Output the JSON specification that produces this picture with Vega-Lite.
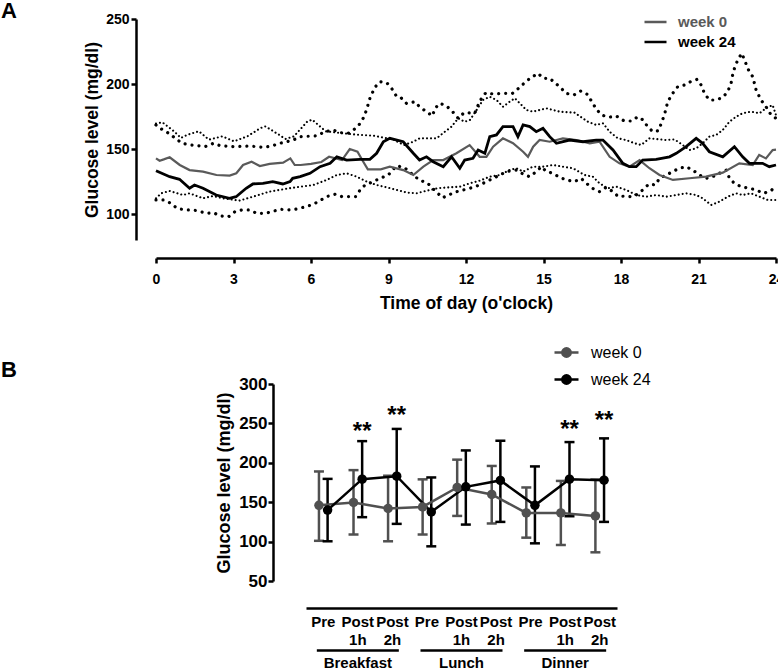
{
  "$schema": "https://vega.github.io/schema/vega-lite/v6.json",
  "padding": {"left": 1, "top": 0, "right": 0, "bottom": 0},
  "background": "#ffffff",
  "config": {"font": "Liberation Sans", "view": {"stroke": null}, "axis": {"grid": false, "domainColor": "#000", "tickColor": "#000", "labelColor": "#000", "titleColor": "#000"}, "axisY": {"labelOverlap": false}},
  "bounds": "flush",
  "spacing": 144,
  "resolve": {"scale": {"color": "independent"}, "legend": {"color": "independent"}},
  "datasets": {
    "meanA": [
      {"h":0,"v":142.8,"week":"week 0"},{"h":0.14,"v":141,"week":"week 0"},{"h":0.3,"v":142,"week":"week 0"},{"h":0.53,"v":143.6,"week":"week 0"},{"h":0.92,"v":137.7,"week":"week 0"},{"h":1.3,"v":133.8,"week":"week 0"},{"h":1.82,"v":132.6,"week":"week 0"},{"h":2.34,"v":130,"week":"week 0"},{"h":2.85,"v":129.5,"week":"week 0"},{"h":3.11,"v":131.3,"week":"week 0"},{"h":3.37,"v":137.7,"week":"week 0"},{"h":3.7,"v":140.2,"week":"week 0"},{"h":4.02,"v":136.9,"week":"week 0"},{"h":4.4,"v":138.5,"week":"week 0"},{"h":4.92,"v":139.5,"week":"week 0"},{"h":5.2,"v":142.8,"week":"week 0"},{"h":5.37,"v":137.7,"week":"week 0"},{"h":5.6,"v":137.7,"week":"week 0"},{"h":6.0,"v":138.5,"week":"week 0"},{"h":6.4,"v":140,"week":"week 0"},{"h":6.7,"v":144,"week":"week 0"},{"h":7.2,"v":141.5,"week":"week 0"},{"h":7.5,"v":150,"week":"week 0"},{"h":7.8,"v":148,"week":"week 0"},{"h":8.0,"v":141,"week":"week 0"},{"h":8.2,"v":134.4,"week":"week 0"},{"h":8.7,"v":134.4,"week":"week 0"},{"h":9.05,"v":136.4,"week":"week 0"},{"h":9.57,"v":133.8,"week":"week 0"},{"h":9.96,"v":130,"week":"week 0"},{"h":10.35,"v":136.4,"week":"week 0"},{"h":10.73,"v":141.5,"week":"week 0"},{"h":11.12,"v":141.5,"week":"week 0"},{"h":11.63,"v":146.7,"week":"week 0"},{"h":12.14,"v":153,"week":"week 0"},{"h":12.53,"v":144,"week":"week 0"},{"h":12.79,"v":144,"week":"week 0"},{"h":13.05,"v":151.8,"week":"week 0"},{"h":13.43,"v":158.2,"week":"week 0"},{"h":13.82,"v":154.4,"week":"week 0"},{"h":14.21,"v":147.9,"week":"week 0"},{"h":14.4,"v":144,"week":"week 0"},{"h":14.6,"v":151.8,"week":"week 0"},{"h":14.85,"v":156.9,"week":"week 0"},{"h":15.24,"v":155.6,"week":"week 0"},{"h":15.75,"v":158.2,"week":"week 0"},{"h":16.27,"v":156.9,"week":"week 0"},{"h":16.79,"v":154.4,"week":"week 0"},{"h":17.17,"v":155.6,"week":"week 0"},{"h":17.56,"v":144,"week":"week 0"},{"h":17.94,"v":139,"week":"week 0"},{"h":18.33,"v":136.4,"week":"week 0"},{"h":18.72,"v":141.5,"week":"week 0"},{"h":19.1,"v":135.2,"week":"week 0"},{"h":19.49,"v":130,"week":"week 0"},{"h":20.01,"v":126.2,"week":"week 0"},{"h":20.65,"v":127.5,"week":"week 0"},{"h":21.29,"v":128.7,"week":"week 0"},{"h":21.94,"v":131.8,"week":"week 0"},{"h":22.58,"v":139,"week":"week 0"},{"h":23.1,"v":137.7,"week":"week 0"},{"h":23.35,"v":145.4,"week":"week 0"},{"h":23.61,"v":142.8,"week":"week 0"},{"h":23.87,"v":149.2,"week":"week 0"},{"h":24,"v":149.5,"week":"week 0"},
      {"h":0,"v":133.3,"week":"week 24"},{"h":0.53,"v":128.7,"week":"week 24"},{"h":0.91,"v":126.7,"week":"week 24"},{"h":1.3,"v":119.8,"week":"week 24"},{"h":1.49,"v":122.3,"week":"week 24"},{"h":1.82,"v":119.8,"week":"week 24"},{"h":2.33,"v":114.6,"week":"week 24"},{"h":2.84,"v":112.1,"week":"week 24"},{"h":3.1,"v":113.3,"week":"week 24"},{"h":3.49,"v":119.8,"week":"week 24"},{"h":3.75,"v":123.1,"week":"week 24"},{"h":4.14,"v":123.6,"week":"week 24"},{"h":4.52,"v":124.9,"week":"week 24"},{"h":4.91,"v":123.1,"week":"week 24"},{"h":5.19,"v":124.9,"week":"week 24"},{"h":5.29,"v":127.4,"week":"week 24"},{"h":5.58,"v":128.7,"week":"week 24"},{"h":5.96,"v":131.3,"week":"week 24"},{"h":6.35,"v":136.4,"week":"week 24"},{"h":6.74,"v":139,"week":"week 24"},{"h":7.0,"v":144,"week":"week 24"},{"h":7.38,"v":141.5,"week":"week 24"},{"h":7.9,"v":142,"week":"week 24"},{"h":8.28,"v":142,"week":"week 24"},{"h":8.54,"v":146.7,"week":"week 24"},{"h":8.8,"v":155.6,"week":"week 24"},{"h":9.05,"v":158.2,"week":"week 24"},{"h":9.57,"v":155.6,"week":"week 24"},{"h":9.96,"v":146.7,"week":"week 24"},{"h":10.2,"v":141.5,"week":"week 24"},{"h":10.47,"v":144,"week":"week 24"},{"h":10.73,"v":140.2,"week":"week 24"},{"h":11.12,"v":136.4,"week":"week 24"},{"h":11.44,"v":144,"week":"week 24"},{"h":11.76,"v":135.2,"week":"week 24"},{"h":11.95,"v":141.5,"week":"week 24"},{"h":12.27,"v":142.8,"week":"week 24"},{"h":12.47,"v":149.2,"week":"week 24"},{"h":12.73,"v":146.7,"week":"week 24"},{"h":12.92,"v":159.5,"week":"week 24"},{"h":13.18,"v":160.8,"week":"week 24"},{"h":13.43,"v":167.2,"week":"week 24"},{"h":13.82,"v":167.2,"week":"week 24"},{"h":14.01,"v":159.5,"week":"week 24"},{"h":14.21,"v":168.5,"week":"week 24"},{"h":14.47,"v":167.2,"week":"week 24"},{"h":14.72,"v":163.3,"week":"week 24"},{"h":14.98,"v":165.9,"week":"week 24"},{"h":15.24,"v":159.5,"week":"week 24"},{"h":15.5,"v":154.4,"week":"week 24"},{"h":16.01,"v":156.9,"week":"week 24"},{"h":16.53,"v":155.6,"week":"week 24"},{"h":17.04,"v":156.9,"week":"week 24"},{"h":17.3,"v":156.9,"week":"week 24"},{"h":17.69,"v":149.2,"week":"week 24"},{"h":18.07,"v":139,"week":"week 24"},{"h":18.33,"v":136.4,"week":"week 24"},{"h":18.59,"v":136.4,"week":"week 24"},{"h":18.84,"v":141.5,"week":"week 24"},{"h":19.36,"v":142,"week":"week 24"},{"h":19.88,"v":144,"week":"week 24"},{"h":20.14,"v":146.7,"week":"week 24"},{"h":20.52,"v":151.8,"week":"week 24"},{"h":20.91,"v":158.2,"week":"week 24"},{"h":21.16,"v":154.4,"week":"week 24"},{"h":21.42,"v":147.9,"week":"week 24"},{"h":21.94,"v":144,"week":"week 24"},{"h":22.39,"v":151.8,"week":"week 24"},{"h":22.71,"v":144,"week":"week 24"},{"h":22.97,"v":139,"week":"week 24"},{"h":23.48,"v":139,"week":"week 24"},{"h":23.74,"v":136.4,"week":"week 24"},{"h":24,"v":137.7,"week":"week 24"}
    ],
    "sd0": [
      {"h":0,"v":169.6,"bound":"upper"},{"h":0.25,"v":170.5,"bound":"upper"},{"h":0.45,"v":167.4,"bound":"upper"},{"h":0.7,"v":163.6,"bound":"upper"},{"h":0.96,"v":158.5,"bound":"upper"},{"h":1.22,"v":161,"bound":"upper"},{"h":1.66,"v":163.6,"bound":"upper"},{"h":2.05,"v":157.2,"bound":"upper"},{"h":2.31,"v":158.5,"bound":"upper"},{"h":2.57,"v":159.7,"bound":"upper"},{"h":3.02,"v":155.9,"bound":"upper"},{"h":3.53,"v":159.7,"bound":"upper"},{"h":4.05,"v":166.1,"bound":"upper"},{"h":4.24,"v":167.4,"bound":"upper"},{"h":4.76,"v":161,"bound":"upper"},{"h":5.01,"v":157.7,"bound":"upper"},{"h":5.34,"v":159.7,"bound":"upper"},{"h":5.86,"v":171.2,"bound":"upper"},{"h":6.05,"v":172.5,"bound":"upper"},{"h":6.57,"v":163.6,"bound":"upper"},{"h":7.15,"v":162.3,"bound":"upper"},{"h":7.79,"v":161,"bound":"upper"},{"h":8.43,"v":160.2,"bound":"upper"},{"h":9.2,"v":157.2,"bound":"upper"},{"h":9.6,"v":153,"bound":"upper"},{"h":9.96,"v":155.6,"bound":"upper"},{"h":10.2,"v":158.2,"bound":"upper"},{"h":10.86,"v":158.2,"bound":"upper"},{"h":11.18,"v":163.3,"bound":"upper"},{"h":11.44,"v":167.2,"bound":"upper"},{"h":11.7,"v":173.6,"bound":"upper"},{"h":11.95,"v":171,"bound":"upper"},{"h":12.15,"v":172.3,"bound":"upper"},{"h":12.41,"v":180,"bound":"upper"},{"h":12.66,"v":187.7,"bound":"upper"},{"h":12.92,"v":190.2,"bound":"upper"},{"h":13.18,"v":187.7,"bound":"upper"},{"h":13.43,"v":182.5,"bound":"upper"},{"h":13.69,"v":186.4,"bound":"upper"},{"h":13.89,"v":189,"bound":"upper"},{"h":14.08,"v":185.2,"bound":"upper"},{"h":14.34,"v":180,"bound":"upper"},{"h":14.59,"v":178.7,"bound":"upper"},{"h":15.11,"v":181.3,"bound":"upper"},{"h":15.63,"v":178.7,"bound":"upper"},{"h":16.2,"v":178,"bound":"upper"},{"h":16.72,"v":171,"bound":"upper"},{"h":17.04,"v":168.5,"bound":"upper"},{"h":17.3,"v":169.8,"bound":"upper"},{"h":17.56,"v":163.3,"bound":"upper"},{"h":17.88,"v":158.2,"bound":"upper"},{"h":18.2,"v":156.9,"bound":"upper"},{"h":18.52,"v":154.4,"bound":"upper"},{"h":18.78,"v":153.1,"bound":"upper"},{"h":19.1,"v":158.2,"bound":"upper"},{"h":19.75,"v":156.9,"bound":"upper"},{"h":20.07,"v":157.4,"bound":"upper"},{"h":20.39,"v":153.1,"bound":"upper"},{"h":20.65,"v":149.2,"bound":"upper"},{"h":20.91,"v":150.5,"bound":"upper"},{"h":21.16,"v":154.4,"bound":"upper"},{"h":21.42,"v":159.5,"bound":"upper"},{"h":21.68,"v":160.8,"bound":"upper"},{"h":21.94,"v":164.6,"bound":"upper"},{"h":22.2,"v":171,"bound":"upper"},{"h":22.45,"v":174.8,"bound":"upper"},{"h":22.71,"v":177.5,"bound":"upper"},{"h":23.03,"v":178.7,"bound":"upper"},{"h":23.36,"v":177.5,"bound":"upper"},{"h":23.61,"v":181.3,"bound":"upper"},{"h":23.87,"v":183.8,"bound":"upper"},{"h":24,"v":176,"bound":"upper"},
      {"h":0,"v":112.1,"bound":"lower"},{"h":0.2,"v":115.9,"bound":"lower"},{"h":0.53,"v":117.7,"bound":"lower"},{"h":1.04,"v":114.6,"bound":"lower"},{"h":1.3,"v":115.9,"bound":"lower"},{"h":1.82,"v":112.1,"bound":"lower"},{"h":2.2,"v":113.8,"bound":"lower"},{"h":2.59,"v":112.1,"bound":"lower"},{"h":3.23,"v":110.3,"bound":"lower"},{"h":3.75,"v":113.3,"bound":"lower"},{"h":4.39,"v":117.2,"bound":"lower"},{"h":4.78,"v":118.5,"bound":"lower"},{"h":5.16,"v":119.8,"bound":"lower"},{"h":5.58,"v":121,"bound":"lower"},{"h":6.09,"v":122.3,"bound":"lower"},{"h":6.61,"v":126.2,"bound":"lower"},{"h":7.0,"v":130,"bound":"lower"},{"h":7.38,"v":131.3,"bound":"lower"},{"h":7.77,"v":128.7,"bound":"lower"},{"h":8.15,"v":125,"bound":"lower"},{"h":8.54,"v":122.3,"bound":"lower"},{"h":8.93,"v":120.5,"bound":"lower"},{"h":9.31,"v":118.5,"bound":"lower"},{"h":9.7,"v":116.5,"bound":"lower"},{"h":10.1,"v":116,"bound":"lower"},{"h":10.5,"v":118,"bound":"lower"},{"h":10.9,"v":119.8,"bound":"lower"},{"h":11.3,"v":120.5,"bound":"lower"},{"h":11.76,"v":121,"bound":"lower"},{"h":12.15,"v":123.6,"bound":"lower"},{"h":12.53,"v":125.6,"bound":"lower"},{"h":12.92,"v":128.7,"bound":"lower"},{"h":13.31,"v":130,"bound":"lower"},{"h":13.69,"v":133.8,"bound":"lower"},{"h":13.95,"v":135.2,"bound":"lower"},{"h":14.21,"v":132.6,"bound":"lower"},{"h":14.59,"v":136.4,"bound":"lower"},{"h":14.98,"v":136.4,"bound":"lower"},{"h":15.37,"v":137.7,"bound":"lower"},{"h":15.75,"v":136.4,"bound":"lower"},{"h":16.14,"v":135.2,"bound":"lower"},{"h":16.59,"v":130,"bound":"lower"},{"h":16.91,"v":128.7,"bound":"lower"},{"h":17.17,"v":123.6,"bound":"lower"},{"h":17.49,"v":119.8,"bound":"lower"},{"h":17.82,"v":121,"bound":"lower"},{"h":18.2,"v":118.5,"bound":"lower"},{"h":18.59,"v":114.6,"bound":"lower"},{"h":18.98,"v":113.3,"bound":"lower"},{"h":19.36,"v":114.6,"bound":"lower"},{"h":19.75,"v":113.3,"bound":"lower"},{"h":20.14,"v":114.6,"bound":"lower"},{"h":20.52,"v":115.9,"bound":"lower"},{"h":20.91,"v":114.6,"bound":"lower"},{"h":21.16,"v":112.1,"bound":"lower"},{"h":21.49,"v":106.9,"bound":"lower"},{"h":21.81,"v":109.5,"bound":"lower"},{"h":22.13,"v":113.3,"bound":"lower"},{"h":22.45,"v":115.9,"bound":"lower"},{"h":22.71,"v":114.6,"bound":"lower"},{"h":23.03,"v":115.9,"bound":"lower"},{"h":23.36,"v":113.3,"bound":"lower"},{"h":23.68,"v":110.8,"bound":"lower"},{"h":24,"v":110.8,"bound":"lower"}
    ],
    "sd24": [
      {"h":0,"v":168.5,"bound":"upper"},{"h":0.23,"v":165.1,"bound":"upper"},{"h":0.49,"v":162.1,"bound":"upper"},{"h":0.75,"v":158.2,"bound":"upper"},{"h":1.0,"v":154.4,"bound":"upper"},{"h":1.33,"v":153.1,"bound":"upper"},{"h":1.65,"v":152.5,"bound":"upper"},{"h":1.9,"v":151.8,"bound":"upper"},{"h":2.23,"v":154.4,"bound":"upper"},{"h":2.49,"v":152.5,"bound":"upper"},{"h":3.0,"v":151.8,"bound":"upper"},{"h":3.58,"v":152.3,"bound":"upper"},{"h":4.16,"v":151.3,"bound":"upper"},{"h":4.48,"v":152.3,"bound":"upper"},{"h":4.8,"v":154.4,"bound":"upper"},{"h":5.06,"v":155.6,"bound":"upper"},{"h":5.32,"v":157,"bound":"upper"},{"h":5.58,"v":159.5,"bound":"upper"},{"h":6.22,"v":160.1,"bound":"upper"},{"h":6.54,"v":163.3,"bound":"upper"},{"h":6.86,"v":164.6,"bound":"upper"},{"h":7.12,"v":162.6,"bound":"upper"},{"h":7.44,"v":162.1,"bound":"upper"},{"h":7.64,"v":164.6,"bound":"upper"},{"h":7.83,"v":167.7,"bound":"upper"},{"h":8.02,"v":173.6,"bound":"upper"},{"h":8.15,"v":180,"bound":"upper"},{"h":8.28,"v":189,"bound":"upper"},{"h":8.47,"v":197.4,"bound":"upper"},{"h":8.67,"v":201.8,"bound":"upper"},{"h":8.93,"v":201,"bound":"upper"},{"h":9.12,"v":196.7,"bound":"upper"},{"h":9.31,"v":190.5,"bound":"upper"},{"h":9.47,"v":189.7,"bound":"upper"},{"h":9.7,"v":185,"bound":"upper"},{"h":10.02,"v":186.4,"bound":"upper"},{"h":10.2,"v":182.5,"bound":"upper"},{"h":10.47,"v":178.7,"bound":"upper"},{"h":10.7,"v":175.4,"bound":"upper"},{"h":10.8,"v":181.3,"bound":"upper"},{"h":10.99,"v":185.2,"bound":"upper"},{"h":11.25,"v":183,"bound":"upper"},{"h":11.48,"v":178.7,"bound":"upper"},{"h":11.7,"v":173.6,"bound":"upper"},{"h":11.93,"v":178,"bound":"upper"},{"h":12.34,"v":177.5,"bound":"upper"},{"h":12.47,"v":183.8,"bound":"upper"},{"h":12.6,"v":189,"bound":"upper"},{"h":12.77,"v":193.3,"bound":"upper"},{"h":13.05,"v":192.3,"bound":"upper"},{"h":13.47,"v":192.8,"bound":"upper"},{"h":13.8,"v":192.8,"bound":"upper"},{"h":14.04,"v":196.7,"bound":"upper"},{"h":14.27,"v":201,"bound":"upper"},{"h":14.53,"v":205.1,"bound":"upper"},{"h":14.79,"v":208.2,"bound":"upper"},{"h":14.98,"v":204.4,"bound":"upper"},{"h":15.24,"v":204.4,"bound":"upper"},{"h":15.43,"v":201,"bound":"upper"},{"h":15.62,"v":198,"bound":"upper"},{"h":15.88,"v":192.8,"bound":"upper"},{"h":16.17,"v":191.5,"bound":"upper"},{"h":16.44,"v":194.6,"bound":"upper"},{"h":16.7,"v":192,"bound":"upper"},{"h":16.87,"v":186.4,"bound":"upper"},{"h":17.04,"v":180.8,"bound":"upper"},{"h":17.24,"v":176.2,"bound":"upper"},{"h":17.53,"v":174.4,"bound":"upper"},{"h":17.82,"v":175.4,"bound":"upper"},{"h":18.11,"v":171.8,"bound":"upper"},{"h":18.4,"v":171.5,"bound":"upper"},{"h":18.65,"v":174.8,"bound":"upper"},{"h":18.82,"v":172.8,"bound":"upper"},{"h":19.01,"v":167.9,"bound":"upper"},{"h":19.23,"v":163.3,"bound":"upper"},{"h":19.45,"v":164.1,"bound":"upper"},{"h":19.56,"v":169.8,"bound":"upper"},{"h":19.68,"v":176.2,"bound":"upper"},{"h":19.81,"v":186.4,"bound":"upper"},{"h":20.0,"v":192.8,"bound":"upper"},{"h":20.2,"v":198,"bound":"upper"},{"h":20.46,"v":199.2,"bound":"upper"},{"h":20.69,"v":201.8,"bound":"upper"},{"h":20.95,"v":203.6,"bound":"upper"},{"h":21.1,"v":199.2,"bound":"upper"},{"h":21.23,"v":192.8,"bound":"upper"},{"h":21.42,"v":187.7,"bound":"upper"},{"h":21.68,"v":187.7,"bound":"upper"},{"h":21.94,"v":189.7,"bound":"upper"},{"h":22.13,"v":194.1,"bound":"upper"},{"h":22.26,"v":200.5,"bound":"upper"},{"h":22.32,"v":206.9,"bound":"upper"},{"h":22.41,"v":213.3,"bound":"upper"},{"h":22.52,"v":218.5,"bound":"upper"},{"h":22.67,"v":223.6,"bound":"upper"},{"h":22.81,"v":217.2,"bound":"upper"},{"h":22.9,"v":212,"bound":"upper"},{"h":23.1,"v":205.6,"bound":"upper"},{"h":23.23,"v":195.4,"bound":"upper"},{"h":23.42,"v":187.7,"bound":"upper"},{"h":23.61,"v":182.5,"bound":"upper"},{"h":23.81,"v":176.2,"bound":"upper"},{"h":24,"v":173.6,"bound":"upper"},
      {"h":0,"v":110.8,"bound":"lower"},{"h":0.3,"v":110.8,"bound":"lower"},{"h":0.58,"v":108.2,"bound":"lower"},{"h":0.81,"v":104.4,"bound":"lower"},{"h":1.13,"v":103.1,"bound":"lower"},{"h":1.45,"v":103.1,"bound":"lower"},{"h":1.71,"v":101.8,"bound":"lower"},{"h":1.97,"v":100.5,"bound":"lower"},{"h":2.23,"v":101,"bound":"lower"},{"h":2.49,"v":98.5,"bound":"lower"},{"h":2.81,"v":97.9,"bound":"lower"},{"h":3.06,"v":101.8,"bound":"lower"},{"h":3.32,"v":103.1,"bound":"lower"},{"h":3.64,"v":103.1,"bound":"lower"},{"h":3.9,"v":100.5,"bound":"lower"},{"h":4.22,"v":100.5,"bound":"lower"},{"h":4.48,"v":101.8,"bound":"lower"},{"h":4.8,"v":103.6,"bound":"lower"},{"h":5.12,"v":103.1,"bound":"lower"},{"h":5.38,"v":103.6,"bound":"lower"},{"h":5.7,"v":105.1,"bound":"lower"},{"h":6.03,"v":107,"bound":"lower"},{"h":6.28,"v":109.5,"bound":"lower"},{"h":6.61,"v":113.4,"bound":"lower"},{"h":6.93,"v":115.2,"bound":"lower"},{"h":7.19,"v":113.4,"bound":"lower"},{"h":7.44,"v":113.4,"bound":"lower"},{"h":7.74,"v":113.4,"bound":"lower"},{"h":7.9,"v":118.5,"bound":"lower"},{"h":8.09,"v":122.3,"bound":"lower"},{"h":8.41,"v":124.9,"bound":"lower"},{"h":8.67,"v":127.4,"bound":"lower"},{"h":8.99,"v":130,"bound":"lower"},{"h":9.3,"v":137,"bound":"lower"},{"h":9.6,"v":136,"bound":"lower"},{"h":9.9,"v":131,"bound":"lower"},{"h":10.2,"v":126,"bound":"lower"},{"h":10.5,"v":124,"bound":"lower"},{"h":10.8,"v":118,"bound":"lower"},{"h":11.09,"v":112.5,"bound":"lower"},{"h":11.6,"v":117,"bound":"lower"},{"h":12.15,"v":119.8,"bound":"lower"},{"h":12.53,"v":122.3,"bound":"lower"},{"h":12.92,"v":126.2,"bound":"lower"},{"h":13.31,"v":130,"bound":"lower"},{"h":13.56,"v":132.6,"bound":"lower"},{"h":13.95,"v":133.8,"bound":"lower"},{"h":14.27,"v":130,"bound":"lower"},{"h":14.47,"v":128.7,"bound":"lower"},{"h":14.72,"v":132.6,"bound":"lower"},{"h":14.92,"v":136.4,"bound":"lower"},{"h":15.11,"v":132.6,"bound":"lower"},{"h":15.37,"v":131.3,"bound":"lower"},{"h":15.63,"v":128.2,"bound":"lower"},{"h":15.88,"v":126.2,"bound":"lower"},{"h":16.2,"v":124.9,"bound":"lower"},{"h":16.46,"v":127.4,"bound":"lower"},{"h":16.66,"v":123.6,"bound":"lower"},{"h":16.89,"v":119.8,"bound":"lower"},{"h":17.17,"v":117.2,"bound":"lower"},{"h":17.43,"v":120.5,"bound":"lower"},{"h":17.69,"v":117.2,"bound":"lower"},{"h":17.9,"v":113.3,"bound":"lower"},{"h":18.14,"v":113.8,"bound":"lower"},{"h":18.4,"v":113.3,"bound":"lower"},{"h":18.59,"v":114.6,"bound":"lower"},{"h":18.84,"v":118.5,"bound":"lower"},{"h":19.08,"v":123.1,"bound":"lower"},{"h":19.33,"v":122.3,"bound":"lower"},{"h":19.49,"v":127.4,"bound":"lower"},{"h":19.75,"v":130,"bound":"lower"},{"h":20.0,"v":132.6,"bound":"lower"},{"h":20.26,"v":135.2,"bound":"lower"},{"h":20.52,"v":136.4,"bound":"lower"},{"h":20.78,"v":133.8,"bound":"lower"},{"h":21.04,"v":130,"bound":"lower"},{"h":21.3,"v":127.4,"bound":"lower"},{"h":21.55,"v":128.7,"bound":"lower"},{"h":21.81,"v":131.3,"bound":"lower"},{"h":22.07,"v":133.8,"bound":"lower"},{"h":22.2,"v":127.4,"bound":"lower"},{"h":22.39,"v":123.6,"bound":"lower"},{"h":22.65,"v":121,"bound":"lower"},{"h":22.97,"v":119.8,"bound":"lower"},{"h":23.23,"v":118.5,"bound":"lower"},{"h":23.52,"v":115.9,"bound":"lower"},{"h":23.81,"v":117.9,"bound":"lower"},{"h":24,"v":122,"bound":"lower"}
    ],
    "meals": [
      {"cat":"Breakfast Pre","week":"week 0","mean":146,"lo":101,"hi":189},
      {"cat":"Breakfast Post 1h","week":"week 0","mean":149.6,"lo":109,"hi":190.7},
      {"cat":"Breakfast Post 2h","week":"week 0","mean":142,"lo":100.4,"hi":183.6},
      {"cat":"Lunch Pre","week":"week 0","mean":144,"lo":109,"hi":179},
      {"cat":"Lunch Post 1h","week":"week 0","mean":168.7,"lo":132.6,"hi":204},
      {"cat":"Lunch Post 2h","week":"week 0","mean":159.8,"lo":123,"hi":196},
      {"cat":"Dinner Pre","week":"week 0","mean":136.4,"lo":105,"hi":168.7},
      {"cat":"Dinner Post 1h","week":"week 0","mean":136.4,"lo":95.7,"hi":177},
      {"cat":"Dinner Post 2h","week":"week 0","mean":132.6,"lo":86.4,"hi":178.8},
      {"cat":"Breakfast Pre","week":"week 24","mean":140,"lo":100.4,"hi":179.6},
      {"cat":"Breakfast Post 1h","week":"week 24","mean":179.2,"lo":131,"hi":227.5},
      {"cat":"Breakfast Post 2h","week":"week 24","mean":183,"lo":122.5,"hi":243},
      {"cat":"Lunch Pre","week":"week 24","mean":137.7,"lo":94,"hi":181.4},
      {"cat":"Lunch Post 1h","week":"week 24","mean":169.5,"lo":121.6,"hi":215.7},
      {"cat":"Lunch Post 2h","week":"week 24","mean":177.6,"lo":125,"hi":228},
      {"cat":"Dinner Pre","week":"week 24","mean":146,"lo":97.8,"hi":195.4},
      {"cat":"Dinner Post 1h","week":"week 24","mean":179.2,"lo":132.2,"hi":226.3},
      {"cat":"Dinner Post 2h","week":"week 24","mean":178,"lo":125,"hi":231}
    ],
    "stars": [
      {"cat":"Breakfast Post 1h","week":"week 24","y":230,"label":"**"},
      {"cat":"Breakfast Post 2h","week":"week 24","y":250,"label":"**"},
      {"cat":"Dinner Post 1h","week":"week 24","y":233,"label":"**"},
      {"cat":"Dinner Post 2h","week":"week 24","y":244,"label":"**"}
    ],
    "groups": [
      {"cat":"Breakfast Post 1h","meal":"Breakfast"},
      {"cat":"Lunch Post 1h","meal":"Lunch"},
      {"cat":"Dinner Post 1h","meal":"Dinner"}
    ]
  },
  "vconcat": [
    {
      "width": 620,
      "height": 221,
      "title": {"text": "A", "anchor": "start", "frame": "group", "fontSize": 22, "fontWeight": "bold", "color": "#000", "dx": -155, "dy": 11, "offset": 0},
      "encoding": {
        "x": {"field": "h", "type": "quantitative", "scale": {"domain": [0, 24], "nice": false},
          "axis": {"values": [0,3,6,9,12,15,18,21,24], "offset": 18, "tickSize": 5, "tickWidth": 2.5, "domainWidth": 2.5, "labelFontSize": 14, "labelFontWeight": "bold", "labelPadding": 9, "labelFlush": false, "title": "Time of day (o'clock)", "titleFontSize": 17.5, "titleFontWeight": "bold", "titlePadding": 8}},
        "y": {"field": "v", "type": "quantitative", "scale": {"domain": [80, 250], "nice": false, "zero": false},
          "axis": {"values": [100,150,200,250], "offset": 20, "tickSize": 5, "tickWidth": 2.5, "domainWidth": 2.5, "labelFontSize": 14, "labelFontWeight": "bold", "labelPadding": 2, "title": "Glucose level  (mg/dl)", "titleFontSize": 17.5, "titleFontWeight": "bold", "titlePadding": 4}}
      },
      "layer": [
        {"data": {"name": "sd0"}, "mark": {"type": "line", "color": "#000", "strokeWidth": 2.1, "strokeCap": "round", "strokeDash": [0.01, 4]}, "encoding": {"detail": {"field": "bound"}}},
        {"data": {"name": "sd24"}, "mark": {"type": "line", "color": "#000", "strokeWidth": 3.2, "strokeCap": "round", "strokeDash": [0.01, 7]}, "encoding": {"detail": {"field": "bound"}}},
        {"data": {"name": "meanA"}, "mark": {"type": "line"},
          "encoding": {
            "strokeWidth": {"field": "week", "type": "nominal", "scale": {"domain": ["week 0", "week 24"], "range": [2.2, 2.8]}, "legend": null},
            "color": {"field": "week", "type": "nominal", "scale": {"domain": ["week 0", "week 24"], "range": ["#5a5a5a", "#000000"]},
            "legend": {"orient": "none", "legendX": 487, "legendY": -7, "title": null, "symbolType": "stroke", "symbolSize": 484, "symbolStrokeWidth": 2.5, "labelFontSize": 15, "labelFontWeight": "bold", "clipHeight": 20, "rowPadding": 0, "padding": 0, "labelOffset": 10,
              "encode": {"labels": {"update": {"fill": {"signal": "datum.value === 'week 0' ? '#5a5a5a' : '#000000'"}}}}}}}}
      ]
    },
    {
      "width": 620,
      "height": 197,
      "title": {"text": "B", "anchor": "start", "frame": "group", "fontSize": 22, "fontWeight": "bold", "color": "#000", "dx": -155, "dy": 51, "offset": 8},
      "encoding": {
        "x": {"field": "cat", "type": "nominal", "sort": ["Breakfast Pre","Breakfast Post 1h","Breakfast Post 2h","Lunch Pre","Lunch Post 1h","Lunch Post 2h","Dinner Pre","Dinner Post 1h","Dinner Post 2h"],
          "scale": {"range": [150, 461], "paddingInner": 0, "paddingOuter": 0},
          "axis": {"orient": "bottom", "offset": 27, "ticks": false, "domainWidth": 2.5, "labelAngle": 0, "labelFontSize": 15, "labelFontWeight": "bold", "labelPadding": 6, "labelBaseline": "top", "labelLineHeight": 18, "labelOverlap": false, "labelExpr": "indexof(datum.value, 'Pre') >= 0 ? 'Pre' : ['Post', slice(datum.value, -2)]", "title": null}},
        "y": {"type": "quantitative", "scale": {"domain": [50, 300], "nice": false, "zero": false},
          "axis": {"values": [50,100,150,200,250,300], "labelOverlap": false, "offset": -117, "tickSize": 5, "tickWidth": 2.5, "domainWidth": 2.5, "labelFontSize": 17, "labelFontWeight": "bold", "labelPadding": 1, "title": "Glucose level  (mg/dl)", "titleFontSize": 18, "titleFontWeight": "bold", "titlePadding": 5}}
      },
      "layer": [
        {"data": {"name": "meals"}, "mark": {"type": "rule", "strokeWidth": 2.5},
          "encoding": {"xOffset": {"field": "week", "type": "nominal", "scale": {"paddingInner": 0, "paddingOuter": 1.875}},
            "y": {"field": "lo", "type": "quantitative", "scale": {"domain": [50, 300], "nice": false, "zero": false},
              "axis": {"values": [50,100,150,200,250,300], "labelOverlap": false, "offset": -117, "tickSize": 5, "tickWidth": 2.5, "domainWidth": 2.5, "labelFontSize": 17, "labelFontWeight": "bold", "labelPadding": 1, "title": "Glucose level  (mg/dl)", "titleFontSize": 18, "titleFontWeight": "bold", "titlePadding": 5}},
            "y2": {"field": "hi"},
            "color": {"field": "week", "type": "nominal", "scale": {"domain": ["week 0", "week 24"], "range": ["#505050", "#000000"]},
              "legend": {"orient": "none", "legendX": 397, "legendY": -45, "title": null, "symbolType": "M-1,0L1,0M0.35,0A0.35,0.35,0,1,1,-0.35,0A0.35,0.35,0,1,1,0.35,0Z", "symbolSize": 576, "symbolStrokeWidth": 2.5, "labelFontSize": 16, "labelFontWeight": "normal", "labelColor": "#000", "clipHeight": 27, "rowPadding": 0, "padding": 0, "labelOffset": 11,
                "encode": {"symbols": {"update": {"fill": {"signal": "datum.value === 'week 0' ? '#505050' : '#000000'"}, "stroke": {"signal": "datum.value === 'week 0' ? '#505050' : '#000000'"}, "opacity": {"value": 1}}}}}}}},
        {"data": {"name": "meals"}, "mark": {"type": "tick", "thickness": 2.5, "size": 10, "opacity": 1},
          "encoding": {"xOffset": {"field": "week", "type": "nominal"}, "y": {"field": "hi", "type": "quantitative"}, "color": {"field": "week", "type": "nominal"}}},
        {"data": {"name": "meals"}, "mark": {"type": "tick", "thickness": 2.5, "size": 10, "opacity": 1},
          "encoding": {"xOffset": {"field": "week", "type": "nominal"}, "y": {"field": "lo", "type": "quantitative"}, "color": {"field": "week", "type": "nominal"}}},
        {"data": {"name": "meals"}, "mark": {"type": "line", "strokeWidth": 2.5},
          "encoding": {"xOffset": {"field": "week", "type": "nominal"}, "y": {"field": "mean", "type": "quantitative"}, "color": {"field": "week", "type": "nominal"}}},
        {"data": {"name": "meals"}, "mark": {"type": "point", "filled": true, "size": 90, "opacity": 1},
          "encoding": {"xOffset": {"field": "week", "type": "nominal"}, "y": {"field": "mean", "type": "quantitative"}, "color": {"field": "week", "type": "nominal"}}},
        {"data": {"name": "stars"}, "mark": {"type": "text", "fontSize": 24, "fontWeight": "bold", "baseline": "alphabetic", "color": "#000"},
          "encoding": {"xOffset": {"field": "week", "type": "nominal"}, "y": {"field": "y", "type": "quantitative"}, "text": {"field": "label"}}},
        {"data": {"name": "groups"}, "mark": {"type": "tick", "thickness": 2.5, "size": 82, "color": "#000", "opacity": 1, "orient": "horizontal"},
          "encoding": {"y": {"datum": -38.1, "type": "quantitative"}}},
        {"data": {"name": "groups"}, "mark": {"type": "text", "fontSize": 15, "fontWeight": "bold", "baseline": "middle", "color": "#000"},
          "encoding": {"y": {"datum": -54.6, "type": "quantitative"}, "text": {"field": "meal"}}}
      ]
    }
  ]
}
